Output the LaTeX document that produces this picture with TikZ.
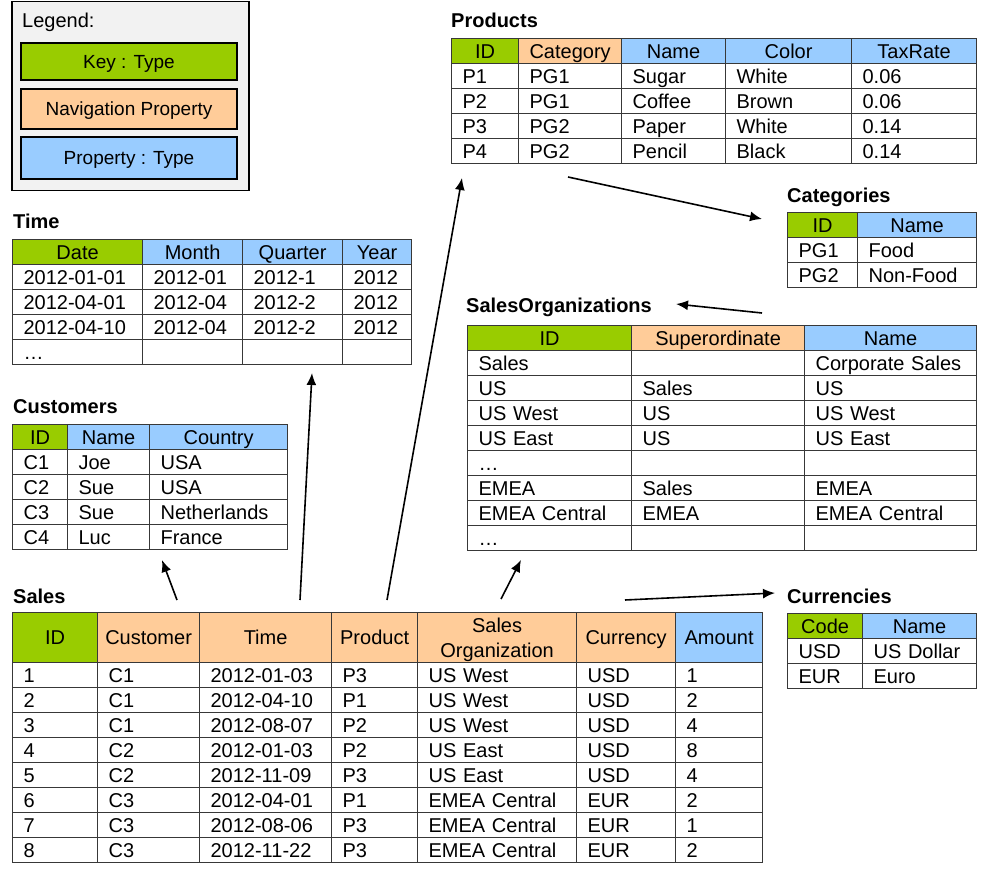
\documentclass[tikz,border=0pt]{standalone}
\usepackage{fontspec}
\setmainfont{Liberation Sans}
\usetikzlibrary{arrows.meta}
\definecolor{keygreen}{HTML}{99CC00}
\definecolor{navorange}{HTML}{FFCC99}
\definecolor{propblue}{HTML}{99CCFF}
\definecolor{legendbg}{HTML}{F2F2F2}
\definecolor{gridline}{HTML}{383838}
\begin{document}
\begin{tikzpicture}[x=1pt, y=-1pt,
    font=\fontsize{20}{25}\selectfont,
    head/.style ={draw=gridline, line width=1.2pt, anchor=north west, inner sep=0pt,
                  minimum height=25pt, text height=16pt, text depth=2pt},
    keyhead/.style ={head, fill=keygreen},
    navhead/.style ={head, fill=navorange},
    prophead/.style ={head, fill=propblue},
    cell/.style ={draw=gridline, line width=1.2pt, anchor=north west, inner xsep=11pt,
                  inner ysep=0pt, minimum height=25pt, text height=16pt, text depth=2pt,
                  text width=#1, align=left},
    tabletitle/.style ={anchor=base west, inner sep=0pt, font=\fontsize{20}{24}\selectfont\bfseries},
    legendbox/.style ={draw, line width=2pt, inner sep=0pt, minimum width=216pt,
                  text depth=0pt, font=\fontsize{19}{23}\selectfont},
    link/.style ={-{Latex[length=12pt,width=10pt]}, line width=1.6pt}]
   \useasboundingbox (0,0) rectangle (993,874);

   % legend
   \node[draw, line width=1.5pt, fill=legendbg, anchor=north west, inner sep=0pt,
         minimum width=237pt, minimum height=189pt] (legend) at (11,1) {};
   \node[anchor=base west, inner sep=0pt] (legendtitle) at (22,28) {Legend:};
   \node[legendbox, fill=keygreen, minimum height=37pt] (legkey) at (129,62) {Key : Type};
   \node[legendbox, fill=navorange, minimum height=40pt] (legnav) at (129,109) {Navigation Property};
   \node[legendbox, fill=propblue, minimum height=42pt] (legprop) at (129,158) {Property : Type};

   % Products
   \node[tabletitle] (prodtitle) at (451,28) {Products};
   \node[keyhead, minimum width=67pt] (prod-h1) at (451,38) {ID};
   \node[navhead, minimum width=103pt] (prod-h2) at (518,38) {Category};
   \node[prophead, minimum width=104pt] (prod-h3) at (621,38) {Name};
   \node[prophead, minimum width=126pt] (prod-h4) at (725,38) {Color};
   \node[prophead, minimum width=125pt] (prod-h5) at (851,38) {TaxRate};
   \foreach \a/\b/\c/\d/\e [count=\i] in {P1/PG1/Sugar/White/0.06, P2/PG1/Coffee/Brown/0.06,
       P3/PG2/Paper/White/0.14, P4/PG2/Pencil/Black/0.14} {
     \node[cell=45pt] (prod-\i-1) at (451,{38+25*\i}) {\a};
     \node[cell=81pt] (prod-\i-2) at (518,{38+25*\i}) {\b};
     \node[cell=82pt] (prod-\i-3) at (621,{38+25*\i}) {\c};
     \node[cell=104pt] (prod-\i-4) at (725,{38+25*\i}) {\d};
     \node[cell=103pt] (prod-\i-5) at (851,{38+25*\i}) {\e};
   }

   % Categories
   \node[tabletitle] (cattitle) at (787,203) {Categories};
   \node[keyhead, minimum width=70pt] (cat-h1) at (787,212) {ID};
   \node[prophead, minimum width=119pt] (cat-h2) at (857,212) {Name};
   \foreach \a/\b [count=\i] in {PG1/Food, PG2/Non-Food} {
     \node[cell=48pt] (cat-\i-1) at (787,{212+25*\i}) {\a};
     \node[cell=97pt] (cat-\i-2) at (857,{212+25*\i}) {\b};
   }

   % Time
   \node[tabletitle] (timetitle) at (13,229) {Time};
   \node[keyhead, minimum width=130pt] (time-h1) at (12,239) {Date};
   \node[prophead, minimum width=100pt] (time-h2) at (142,239) {Month};
   \node[prophead, minimum width=100pt] (time-h3) at (242,239) {Quarter};
   \node[prophead, minimum width=69pt] (time-h4) at (342,239) {Year};
   \foreach \a/\b/\c/\d [count=\i] in {2012-01-01/2012-01/2012-1/2012,
       2012-04-01/2012-04/2012-2/2012, 2012-04-10/2012-04/2012-2/2012, …///} {
     \node[cell=108pt] (time-\i-1) at (12,{239+25*\i}) {\a};
     \node[cell=78pt] (time-\i-2) at (142,{239+25*\i}) {\b};
     \node[cell=78pt] (time-\i-3) at (242,{239+25*\i}) {\c};
     \node[cell=47pt] (time-\i-4) at (342,{239+25*\i}) {\d};
   }

   % SalesOrganizations
   \node[tabletitle] (orgtitle) at (466,313) {SalesOrganizations};
   \node[keyhead, minimum width=164pt] (org-h1) at (467,325) {ID};
   \node[navhead, minimum width=173pt] (org-h2) at (631,325) {Superordinate};
   \node[prophead, minimum width=172pt] (org-h3) at (804,325) {Name};
   \foreach \a/\b/\c [count=\i] in {Sales//Corporate Sales, US/Sales/US, US West/US/US West,
       US East/US/US East, …//, EMEA/Sales/EMEA, EMEA Central/EMEA/EMEA Central, …//} {
     \node[cell=142pt] (org-\i-1) at (467,{325+25*\i}) {\a};
     \node[cell=151pt] (org-\i-2) at (631,{325+25*\i}) {\b};
     \node[cell=150pt] (org-\i-3) at (804,{325+25*\i}) {\c};
   }

   % Customers
   \node[tabletitle] (custtitle) at (13,413) {Customers};
   \node[keyhead, minimum width=55pt] (cust-h1) at (12,424) {ID};
   \node[prophead, minimum width=82pt] (cust-h2) at (67,424) {Name};
   \node[prophead, minimum width=138pt] (cust-h3) at (149,424) {Country};
   \foreach \a/\b/\c [count=\i] in {C1/Joe/USA, C2/Sue/USA, C3/Sue/Netherlands, C4/Luc/France} {
     \node[cell=33pt] (cust-\i-1) at (12,{424+25*\i}) {\a};
     \node[cell=60pt] (cust-\i-2) at (67,{424+25*\i}) {\b};
     \node[cell=116pt] (cust-\i-3) at (149,{424+25*\i}) {\c};
   }

   % Currencies
   \node[tabletitle] (curtitle) at (787,603) {Currencies};
   \node[keyhead, minimum width=75pt] (cur-h1) at (787,613) {Code};
   \node[prophead, minimum width=114pt] (cur-h2) at (862,613) {Name};
   \foreach \a/\b [count=\i] in {USD/US Dollar, EUR/Euro} {
     \node[cell=53pt] (cur-\i-1) at (787,{613+25*\i}) {\a};
     \node[cell=92pt] (cur-\i-2) at (862,{613+25*\i}) {\b};
   }

   % Sales
   \node[tabletitle] (salestitle) at (13,603) {Sales};
   \node[keyhead, minimum width=85pt, minimum height=50pt] (sales-h1) at (12,612) {ID};
   \node[navhead, minimum width=102pt, minimum height=50pt] (sales-h2) at (97,612) {Customer};
   \node[navhead, minimum width=132pt, minimum height=50pt] (sales-h3) at (199,612) {Time};
   \node[navhead, minimum width=86pt, minimum height=50pt] (sales-h4) at (331,612) {Product};
   \node[navhead, minimum width=159pt, minimum height=50pt] (sales-h5) at (417,612) {};
   \node[align=center, inner sep=0pt] (sales-h5-text) at ([yshift=-2pt]sales-h5.center) {Sales\\Organization};
   \node[navhead, minimum width=99pt, minimum height=50pt] (sales-h6) at (576,612) {Currency};
   \node[prophead, minimum width=87pt, minimum height=50pt] (sales-h7) at (675,612) {Amount};
   \foreach \a/\b/\c/\d/\e/\f/\g [count=\i] in {1/C1/2012-01-03/P3/US West/USD/1,
       2/C1/2012-04-10/P1/US West/USD/2, 3/C1/2012-08-07/P2/US West/USD/4,
       4/C2/2012-01-03/P2/US East/USD/8, 5/C2/2012-11-09/P3/US East/USD/4,
       6/C3/2012-04-01/P1/EMEA Central/EUR/2, 7/C3/2012-08-06/P3/EMEA Central/EUR/1,
       8/C3/2012-11-22/P3/EMEA Central/EUR/2} {
     \node[cell=63pt] (sales-\i-1) at (12,{637+25*\i}) {\a};
     \node[cell=80pt] (sales-\i-2) at (97,{637+25*\i}) {\b};
     \node[cell=110pt] (sales-\i-3) at (199,{637+25*\i}) {\c};
     \node[cell=64pt] (sales-\i-4) at (331,{637+25*\i}) {\d};
     \node[cell=137pt] (sales-\i-5) at (417,{637+25*\i}) {\e};
     \node[cell=77pt] (sales-\i-6) at (576,{637+25*\i}) {\f};
     \node[cell=65pt] (sales-\i-7) at (675,{637+25*\i}) {\g};
   }

   % navigation links
   \coordinate (custfrom) at (177,600);
   \coordinate (custto) at (162,560);
   \coordinate (timefrom) at (300,600);
   \coordinate (timeto) at (312,373);
   \coordinate (prodfrom) at (387,600);
   \coordinate (prodto) at (462,178);
   \coordinate (orgfrom) at (501,599);
   \coordinate (orgto) at (521,560);
   \coordinate (curfrom) at (625,600);
   \coordinate (curto) at (775,593);
   \coordinate (catfrom) at (568,177);
   \coordinate (catto) at (762,219);
   \coordinate (supfrom) at (762,313);
   \coordinate (supto) at (676,304);
   \draw[link] (custfrom) to (custto);
   \draw[link] (timefrom) to (timeto);
   \draw[link] (prodfrom) to (prodto);
   \draw[link] (orgfrom) to (orgto);
   \draw[link] (curfrom) to (curto);
   \draw[link] (catfrom) to (catto);
   \draw[link] (supfrom) to (supto);
 \end{tikzpicture}
\end{document}
